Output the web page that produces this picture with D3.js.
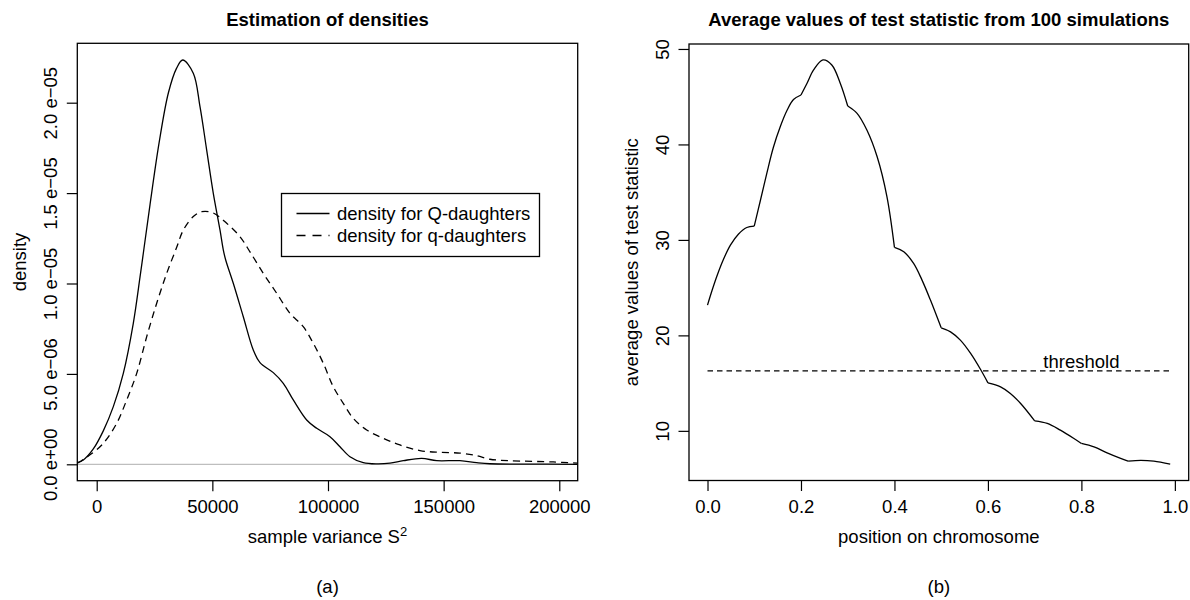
<!DOCTYPE html>
<html>
<head>
<meta charset="utf-8">
<script src="https://cdnjs.cloudflare.com/ajax/libs/d3/7.8.5/d3.min.js"></script>
<style>
  body { margin: 0; background: #fff; }
  svg { display: block; font-family: "Liberation Sans", Arial, Helvetica, sans-serif; }
</style>
</head>
<body>
<svg id="fig" width="1190" height="600"></svg>
<script>
// ---- panel (a): density estimates ----
const varianceQ = [-8390, -5790, -1470, 2850, 7180, 11500, 15820, 18720, 20450, 23040, 27000, 31000,
  34500, 37180, 41760, 44660, 47550, 50410, 53300, 54730, 55770, 59050, 63380, 67700, 70600, 76350,
  80670, 84990, 90780, 95110, 100860, 105180, 109500, 115250, 121050, 126800, 132550, 140500, 146980,
  157060, 164270, 170020, 185000, 207960];
const densityQ = [0.09, 0.24, 0.85, 1.85, 3.19, 5.03, 7.80, 10.35, 11.95, 14.35, 17.8, 20.55,
  21.9, 22.36, 21.63, 19.78, 17.38, 14.99, 12.96, 11.86, 11.30, 10.01, 8.16, 6.32, 5.62, 5.07,
  4.48, 3.56, 2.45, 1.99, 1.53, 0.97, 0.42, 0.09, 0.02, 0.06, 0.20, 0.33, 0.20,
  0.20, 0.09, 0.03, 0.01, 0.0].map(d => d * 1e-6);

const varianceq = [-8390, -5790, -2590, 2850, 8650, 12970, 17290, 21620, 25940, 30260, 34580, 37440,
  41760, 45390, 50410, 56200, 61950, 66270, 72020, 77810, 83560, 89310, 93640, 97960, 102280, 106600,
  110930, 116720, 123900, 131100, 139760, 148400, 157060, 164270, 170020, 178670, 197400, 207960];
const densityq = [0.06, 0.27, 0.55, 1.16, 2.27, 3.56, 5.03, 7.06, 8.91, 10.56, 12.0, 12.95,
  13.7, 13.97, 13.9, 13.33, 12.59, 11.75, 10.56, 9.46, 8.35, 7.61, 6.69, 5.59, 4.29, 3.37,
  2.54, 1.90, 1.44, 1.07, 0.76, 0.66, 0.62, 0.48, 0.28, 0.20, 0.13, 0.06].map(d => d * 1e-6);

const varianceTicks = [0, 50000, 100000, 150000, 200000];
const densityTicks = [0, 5e-6, 1e-5, 1.5e-5, 2e-5];
const densityTickLabels = ["0.0 e+00", "5.0 e\u221206", "1.0 e\u221205", "1.5 e\u221205", "2.0 e\u221205"];
const legendLabels = ["density for Q-daughters", "density for q-daughters"];

// ---- panel (b): average test statistic ----
const position = [0, 0.01, 0.02, 0.034, 0.049, 0.066, 0.084, 0.1,
  0.113, 0.127, 0.141, 0.156, 0.17, 0.184, 0.2,
  0.213, 0.227, 0.247, 0.266, 0.284, 0.3,
  0.32, 0.341, 0.363, 0.384, 0.4,
  0.42, 0.441, 0.459, 0.477, 0.5,
  0.52, 0.541, 0.563, 0.584, 0.6,
  0.627, 0.648, 0.67, 0.7,
  0.727, 0.755, 0.784, 0.8,
  0.827, 0.855, 0.884, 0.9,
  0.927, 0.955, 0.99];
const avgStatistic = [23.17, 24.75, 26.2, 27.95, 29.45, 30.6, 31.3, 31.45,
  34.1, 37.0, 39.7, 41.9, 43.55, 44.7, 45.18,
  46.41, 47.8, 48.85, 48.32, 46.41, 44.03,
  43.26, 41.51, 38.71, 34.52, 29.22,
  28.76, 27.54, 25.79, 23.70, 20.79,
  20.37, 19.50, 18.11, 16.45, 15.03,
  14.61, 13.92, 12.87, 11.05,
  10.78, 10.07, 9.20, 8.68,
  8.32, 7.69, 7.11, 6.82,
  6.90, 6.82, 6.51];
const threshold = 16.29;
const thresholdRange = [0, 0.99];
const positionTicks = [0, 0.2, 0.4, 0.6, 0.8, 1.0];
const statTicks = [10, 20, 30, 40, 50];

const svg = d3.select("#fig");
const FS = 18.5;
const tick = 10.5;

function styleAxis(g) {
  g.select(".domain").remove();
  g.selectAll("line").attr("stroke", "#000").attr("stroke-width", 1.2);
  g.attr("font-family", null).attr("font-size", FS);
  g.selectAll("text").attr("fill", "#000");
}

function rotateYLabels(g, k) {
  g.selectAll("text")
    .attr("x", 0).attr("y", -k).attr("dy", null)
    .attr("transform", "rotate(-90)")
    .attr("text-anchor", "middle");
}

function panel(opts) {
  const { x, y, title, xlab, ylab, sub } = opts;
  const [x0, x1] = x.range();
  const [yb, yt] = y.range();
  const cx = (x0 + x1) / 2;
  const g = svg.append("g");

  g.append("text").attr("x", cx).attr("y", 25.5)
    .attr("text-anchor", "middle").attr("font-weight", "bold").attr("font-size", FS)
    .text(title);

  const xl = g.append("text").attr("x", cx).attr("y", 542.7)
    .attr("text-anchor", "middle").attr("font-size", FS);
  xlab(xl);

  g.append("text")
    .attr("transform", `translate(${x0 - 51.5},${(yb + yt) / 2}) rotate(-90)`)
    .attr("text-anchor", "middle").attr("font-size", FS)
    .text(ylab);

  g.append("text").attr("x", cx).attr("y", 593)
    .attr("text-anchor", "middle").attr("font-size", FS)
    .text(sub);

  return g;
}

const smooth = d3.curveCatmullRom.alpha(0.5);

// ---------- panel (a) ----------
const xA = d3.scaleLinear().domain([-8390, 207960]).range([77.3, 577.7]);
const yA = d3.scaleLinear().domain([-9.07e-7, 2.3285e-5]).range([480.7, 43.3]);

const gA = panel({
  x: xA, y: yA,
  title: "Estimation of densities",
  xlab: t => { t.append("tspan").text("sample variance S");
               t.append("tspan").attr("font-size", 13).attr("dy", -7).text("2"); },
  ylab: "density",
  sub: "(a)"
});

gA.append("line")
  .attr("x1", xA.range()[0]).attr("x2", xA.range()[1])
  .attr("y1", yA(0)).attr("y2", yA(0))
  .attr("stroke", "#bebebe").attr("stroke-width", 1.3);

const lineA = d3.line().curve(smooth).x(d => xA(d[0])).y(d => yA(d[1]));

gA.append("path")
  .datum(d3.zip(varianceQ, densityQ))
  .attr("d", lineA).attr("fill", "none").attr("stroke", "#000").attr("stroke-width", 1.3);

gA.append("path")
  .datum(d3.zip(varianceq, densityq))
  .attr("d", lineA).attr("fill", "none").attr("stroke", "#000").attr("stroke-width", 1.3)
  .attr("stroke-dasharray", "7,5");

gA.append("g").attr("transform", `translate(0,${yA.range()[0]})`)
  .call(d3.axisBottom(xA).tickValues(varianceTicks).tickFormat(d3.format("d"))
    .tickSize(tick).tickPadding(9).tickSizeOuter(0))
  .call(styleAxis);

gA.append("g").attr("transform", `translate(${xA.range()[0]},0)`)
  .call(d3.axisLeft(yA).tickValues(densityTicks).tickFormat((d, i) => densityTickLabels[i])
    .tickSize(tick).tickSizeOuter(0))
  .call(styleAxis)
  .call(g => rotateYLabels(g, 20.6));

gA.append("rect")
  .attr("x", xA.range()[0]).attr("y", yA.range()[1])
  .attr("width", xA.range()[1] - xA.range()[0]).attr("height", yA.range()[0] - yA.range()[1])
  .attr("fill", "none").attr("stroke", "#000").attr("stroke-width", 1.3);

// legend
const leg = gA.append("g").attr("transform", "translate(281.5,193.5)");
leg.append("rect").attr("width", 258).attr("height", 63)
  .attr("fill", "#fff").attr("stroke", "#000").attr("stroke-width", 1.3);
legendLabels.forEach((lab, i) => {
  const ly = 20 + i * 22;
  leg.append("line").attr("x1", 15).attr("x2", 48).attr("y1", ly).attr("y2", ly)
    .attr("stroke", "#000").attr("stroke-width", 1.3)
    .attr("stroke-dasharray", i === 0 ? null : "9,7");
  leg.append("text").attr("x", 55.5).attr("y", ly + 6.5).attr("font-size", FS).text(lab);
});

// ---------- panel (b) ----------
const xB = d3.scaleLinear().domain([-0.0396, 1.0296]).range([689, 1188.7]);
const yB = d3.scaleLinear().domain([4.80, 50.52]).range([480.5, 44]);

const gB = panel({
  x: xB, y: yB,
  title: "Average values of test statistic from 100 simulations",
  xlab: t => t.text("position on chromosome"),
  ylab: "average values of test statistic",
  sub: "(b)"
});

// split the curve at the marker positions (multiples of 0.1), where it has kinks
const ptsB = d3.zip(position, avgStatistic);
const segments = [];
let seg = [];
ptsB.forEach(p => {
  seg.push(p);
  const k = p[0] * 10;
  if (p[0] > 0 && Math.abs(k - Math.round(k)) < 1e-9) { segments.push(seg); seg = [p]; }
});
if (seg.length > 1) segments.push(seg);

const lineB = d3.line().curve(smooth).x(d => xB(d[0])).y(d => yB(d[1]));
gB.selectAll("path.stat").data(segments).join("path")
  .attr("class", "stat")
  .attr("d", lineB).attr("fill", "none").attr("stroke", "#000").attr("stroke-width", 1.3);

gB.append("line")
  .attr("x1", xB(thresholdRange[0])).attr("x2", xB(thresholdRange[1]))
  .attr("y1", yB(threshold)).attr("y2", yB(threshold))
  .attr("stroke", "#000").attr("stroke-width", 1.3).attr("stroke-dasharray", "5.5,4");

gB.append("text").attr("x", xB(0.8)).attr("y", yB(threshold) - 3)
  .attr("text-anchor", "middle").attr("font-size", FS).text("threshold");

gB.append("g").attr("transform", `translate(0,${yB.range()[0]})`)
  .call(d3.axisBottom(xB).tickValues(positionTicks).tickFormat(d3.format(".1f"))
    .tickSize(tick).tickPadding(9).tickSizeOuter(0))
  .call(styleAxis);

gB.append("g").attr("transform", `translate(${xB.range()[0]},0)`)
  .call(d3.axisLeft(yB).tickValues(statTicks).tickFormat(d3.format("d"))
    .tickSize(tick).tickSizeOuter(0))
  .call(styleAxis)
  .call(g => rotateYLabels(g, 20));

gB.append("rect")
  .attr("x", xB.range()[0]).attr("y", yB.range()[1])
  .attr("width", xB.range()[1] - xB.range()[0]).attr("height", yB.range()[0] - yB.range()[1])
  .attr("fill", "none").attr("stroke", "#000").attr("stroke-width", 1.3);
</script>
</body>
</html>
